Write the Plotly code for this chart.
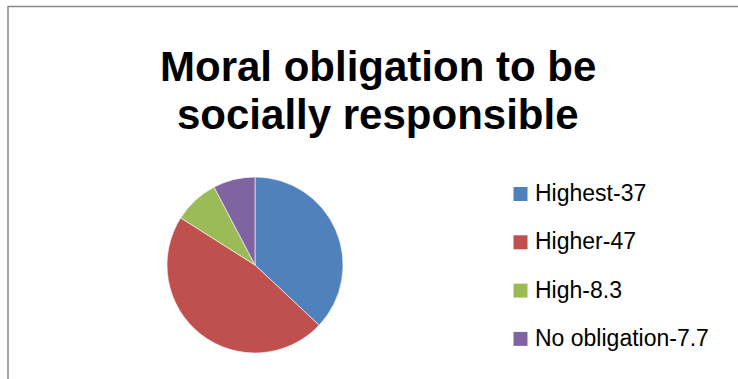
import plotly.graph_objects as go

# ---- data ----
labels = ["Highest-37", "Higher-47", "High-8.3", "No obligation-7.7"]
values = [37, 47, 8.3, 7.7]
colors = ["#4F81BD", "#C0504D", "#9BBB59", "#8064A2"]
title_lines = ["Moral obligation to be", "socially responsible"]

W, H = 738, 379
FONT = "Liberation Sans, Arial, sans-serif"

def px_x(x):
    return x / W

def px_y(y):
    return 1 - y / H

cx, cy, r = 255, 265, 88

fig = go.Figure(
    go.Pie(
        labels=labels,
        values=values,
        marker=dict(colors=colors, line=dict(color="white", width=0.6)),
        sort=False,
        direction="clockwise",
        rotation=0,
        textinfo="none",
        hoverinfo="label+value",
        showlegend=False,
        domain=dict(x=[px_x(cx - r), px_x(cx + r)], y=[px_y(cy + r), px_y(cy - r)]),
    )
)

annotations = []
shapes = []

# title (two lines)
title_y = [67, 115]
for line, ty in zip(title_lines, title_y):
    annotations.append(dict(
        text=f"<b>{line}</b>", x=px_x(377.5), y=px_y(ty), xref="paper", yref="paper",
        xanchor="center", yanchor="middle", showarrow=False,
        font=dict(family=FONT, size=42, color="#000000"),
    ))

# manual legend
leg_y0, leg_dy = 193, 48.3
sq = 14
for i, (lab, col) in enumerate(zip(labels, colors)):
    ly = leg_y0 + i * leg_dy
    shapes.append(dict(
        type="rect", xref="paper", yref="paper",
        x0=px_x(513.5), x1=px_x(513.5 + sq), y0=px_y(ly + 1 + sq / 2), y1=px_y(ly + 1 - sq / 2),
        fillcolor=col, line=dict(width=0),
    ))
    annotations.append(dict(
        text=lab, x=px_x(533), y=px_y(ly), xref="paper", yref="paper",
        xanchor="left", yanchor="middle", showarrow=False,
        font=dict(family=FONT, size=23, color="#000000"),
    ))

# chart border (extends beyond right/bottom edges)
shapes.append(dict(
    type="rect", xref="paper", yref="paper",
    x0=px_x(8), x1=px_x(W + 10), y0=px_y(H + 10), y1=px_y(6.5),
    line=dict(color="#898989", width=1.5), fillcolor="rgba(0,0,0,0)",
))

fig.update_layout(
    width=W, height=H,
    margin=dict(l=0, r=0, t=0, b=0),
    paper_bgcolor="white",
    plot_bgcolor="white",
    annotations=annotations,
    shapes=shapes,
    showlegend=False,
)

fig.write_html("out.html")
